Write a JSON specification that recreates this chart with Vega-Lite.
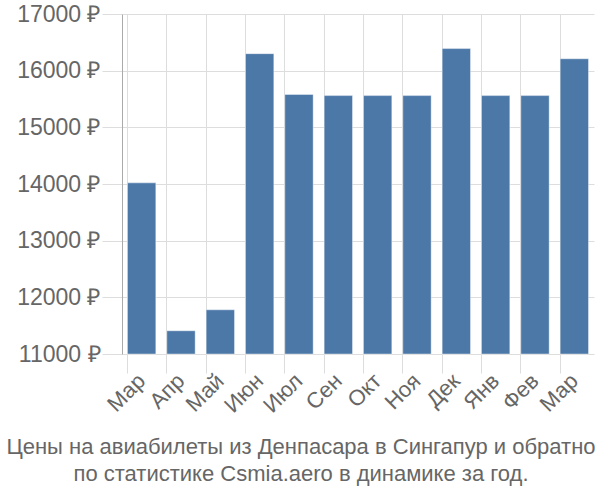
{
  "$schema": "https://vega.github.io/schema/vega-lite/v6.json",
  "autosize": "none",
  "width": 472,
  "height": 340,
  "padding": {"left": 122, "top": 14, "right": 6, "bottom": 146},
  "background": "white",
  "data": {"values": [
    {"month": "Мар 2023", "price": 14020},
    {"month": "Апр 2023", "price": 11410},
    {"month": "Май 2023", "price": 11780},
    {"month": "Июн 2023", "price": 16300},
    {"month": "Июл 2023", "price": 15580},
    {"month": "Сен 2023", "price": 15560},
    {"month": "Окт 2023", "price": 15560},
    {"month": "Ноя 2023", "price": 15560},
    {"month": "Дек 2023", "price": 16390},
    {"month": "Янв 2024", "price": 15560},
    {"month": "Фев 2024", "price": 15560},
    {"month": "Мар 2024", "price": 16210}
  ]},
  "title": {
    "text": ["Цены на авиабилеты из Денпасара в Сингапур и обратно", "по статистике Csmia.aero в динамике за год."],
    "orient": "bottom",
    "anchor": "middle",
    "dx": -57,
    "offset": 21,
    "font": "Liberation Sans",
    "fontSize": 22,
    "fontWeight": "normal",
    "color": "#666666",
    "lineHeight": 27
  },
  "mark": {"type": "bar", "color": "#4c78a8", "stroke": "white", "strokeOpacity": 0.4, "strokeWidth": 1},
  "encoding": {
    "x": {
      "field": "month", "type": "nominal", "sort": null,
      "scale": {"paddingInner": 0.28, "paddingOuter": 0.14},
      "axis": {
        "title": null, "labelAngle": -45, "labelAlign": "right", "labelBaseline": "middle",
        "labelExpr": "split(datum.value, ' ')[0]",
        "labelFont": "Liberation Sans", "labelFontSize": 22, "labelColor": "#666666",
        "tickSize": 19, "tickColor": "#dddddd", "grid": true, "gridColor": "#dddddd",
        "domain": false, "labelPadding": 4, "bandPosition": 0
      }
    },
    "y": {
      "field": "price", "type": "quantitative",
      "scale": {"domain": [11000, 17000], "zero": false},
      "axis": {
        "title": null, "values": [11000, 12000, 13000, 14000, 15000, 16000, 17000],
        "labelExpr": "datum.value + ' ₽'",
        "labelFont": "Liberation Sans", "labelFontSize": 23, "labelColor": "#666666",
        "tickSize": 20, "tickColor": "#dddddd", "gridColor": "#dddddd",
        "domainColor": "#aaaaaa", "labelPadding": 2
      }
    },
    "y2": {"datum": 11000}
  },
  "config": {"view": {"stroke": null}, "axis": {"gridWidth": 1}}
}
